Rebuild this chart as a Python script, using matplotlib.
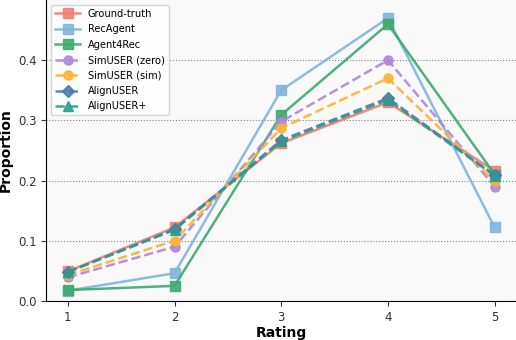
import numpy as np
import matplotlib.pyplot as plt

ratings = [1, 2, 3, 4, 5]

ground_truth = [0.049, 0.122, 0.262, 0.330, 0.216]
rec_agent = [0.017, 0.046, 0.350, 0.470, 0.122]
agent4rec = [0.018, 0.025, 0.309, 0.460, 0.210]
simuser_zero = [0.039, 0.090, 0.298, 0.400, 0.190]
simuser_sim = [0.043, 0.100, 0.287, 0.370, 0.199]
alignuser = [0.048, 0.119, 0.267, 0.337, 0.209]
alignuser_plus = [0.048, 0.118, 0.265, 0.334, 0.208]

labels = ["Ground-truth", "RecAgent", "Agent4Rec", "SimUSER (zero)",
          "SimUSER (sim)", "AlignUSER", "AlignUSER+"]
series = [ground_truth, rec_agent, agent4rec, simuser_zero,
          simuser_sim, alignuser, alignuser_plus]
colors = ["#F47C72", "#7FB6DA", "#3DAA6E", "#AE85DD", "#FDB22E", "#4E79A7", "#2A9D8F"]
markers = ["s", "s", "s", "o", "o", "D", "^"]
styles = ["-", "-", "-", "--", "--", "--", "--"]

fig, ax = plt.subplots(figsize=(5.16, 3.4), dpi=100)
ax.set_facecolor("#f9f9f9")

for vals, lab, c, m, ls in zip(series, labels, colors, markers, styles):
    ax.plot(ratings, vals, color=c, marker=m, linestyle=ls, linewidth=1.8,
            markersize=6.5, label=lab, alpha=0.9)

ax.set_xlim(0.8, 5.2)
ax.set_ylim(0, 0.5)
ax.set_xticks(ratings)
ax.set_yticks([0.0, 0.1, 0.2, 0.3, 0.4])
ax.yaxis.set_major_formatter(plt.FormatStrFormatter("%.1f"))
ax.grid(axis="y", linestyle=":", color="gray", linewidth=0.8)
ax.set_axisbelow(True)
ax.spines["top"].set_visible(False)
ax.spines["right"].set_visible(False)
ax.tick_params(labelsize=8.5, colors="#333333")
ax.set_xlabel("Rating", fontweight="bold", fontsize=10, labelpad=2)
ax.set_ylabel("Proportion", fontweight="bold", fontsize=10)
ax.legend(loc="upper left", fontsize=7.1, frameon=True, handlelength=2.5,
          labelspacing=0.55)

fig.subplots_adjust(left=0.09, right=1.0, top=1.0, bottom=0.115)
fig.savefig("out.png", dpi=100)
